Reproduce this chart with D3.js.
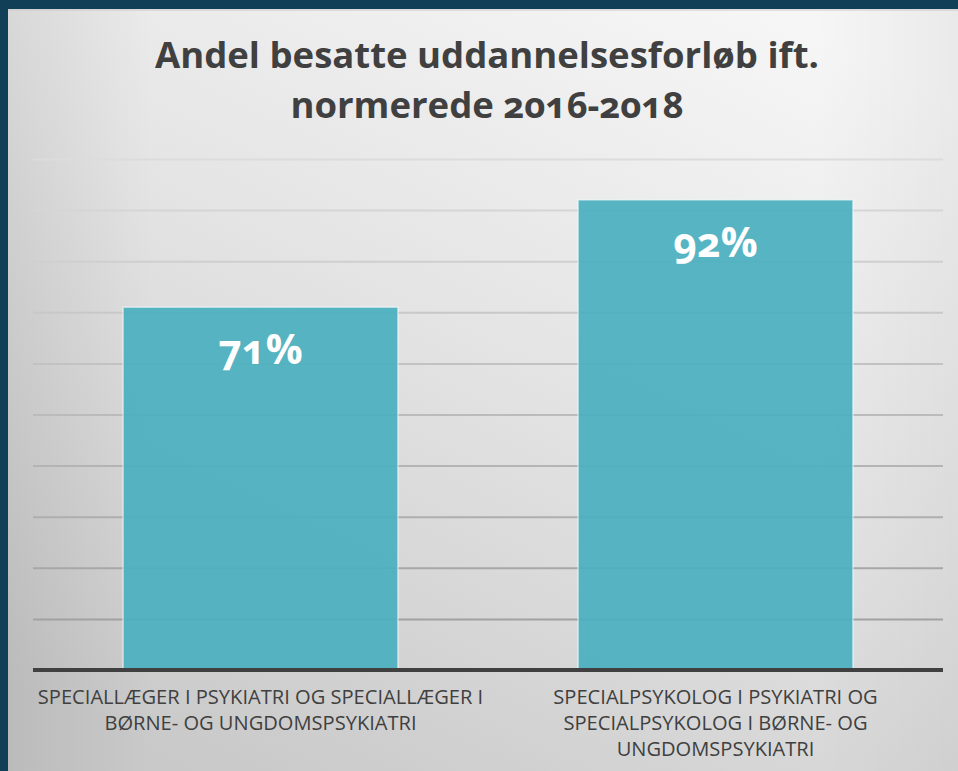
<!DOCTYPE html>
<html><head><meta charset="utf-8">
<script src="https://cdn.jsdelivr.net/npm/d3@7"></script>
<style>
html,body{margin:0;padding:0;background:#123f58;}
svg{display:block;}
</style></head>
<body>
<script>
const categories = [
  ["SPECIALLÆGER I PSYKIATRI OG SPECIALLÆGER I", "BØRNE- OG UNGDOMSPSYKIATRI"],
  ["SPECIALPSYKOLOG I PSYKIATRI OG", "SPECIALPSYKOLOG I BØRNE- OG", "UNGDOMSPSYKIATRI"]
];
const values = [0.71, 0.92];
const valueLabels = ["71%", "92%"];
const titleLines = ["Andel besatte uddannelsesforløb ift.", "normerede 2016-2018"];
const gridTicks = d3.range(0, 11).map(i => i / 10);

const W = 958, H = 771;
const svg = d3.select("body").append("svg").attr("width", W).attr("height", H);
const defs = svg.append("defs");
const lg = defs.append("linearGradient").attr("id", "bg").attr("x1", "0.8").attr("y1", "0").attr("x2", "0.2").attr("y2", "1");
lg.append("stop").attr("offset", "0").attr("stop-color", "#f6f6f6");
lg.append("stop").attr("offset", "0.45").attr("stop-color", "#e4e4e4");
lg.append("stop").attr("offset", "1").attr("stop-color", "#c9c9c9");
const lg2 = defs.append("linearGradient").attr("id", "side").attr("x1", "0").attr("y1", "0").attr("x2", "1").attr("y2", "0");
lg2.append("stop").attr("offset", "0").attr("stop-color", "#000").attr("stop-opacity", 0.07);
lg2.append("stop").attr("offset", "0.15").attr("stop-color", "#000").attr("stop-opacity", 0);
lg2.append("stop").attr("offset", "0.85").attr("stop-color", "#000").attr("stop-opacity", 0);
lg2.append("stop").attr("offset", "1").attr("stop-color", "#000").attr("stop-opacity", 0.05);

svg.append("rect").attr("x", 0).attr("y", 0).attr("width", W).attr("height", H).attr("fill", "#123f58");
svg.append("rect").attr("x", 8).attr("y", 9).attr("width", W - 8).attr("height", H - 9).attr("fill", "url(#bg)");
svg.append("rect").attr("x", 8).attr("y", 9).attr("width", W - 8).attr("height", H - 9).attr("fill", "url(#side)");
svg.append("line").attr("x1", 8).attr("x2", W).attr("y1", 10).attr("y2", 10).attr("stroke", "#c8c8c8").attr("stroke-width", 1);

const x0 = 33, x1 = 943, yTop = 159, yBase = 670;
const x = d3.scaleBand().domain(d3.range(values.length)).range([x0, x1]).paddingInner(0.396).paddingOuter(0.198);
const y = d3.scaleLinear().domain([0, 1]).range([yBase, yTop]);
const gridColor = d3.scaleLinear().domain([0, 1]).range(["#9a9a9a", "#dcdcdc"]);

const font = "'Open Sans', 'Noto Sans', sans-serif";

// title
svg.append("g").selectAll("text").data(titleLines).join("text")
  .attr("x", 487).attr("y", (d, i) => 68 + i * 50)
  .attr("text-anchor", "middle")
  .attr("font-family", font).attr("font-weight", 700).attr("font-size", 36.5)
  .style("font-variant-numeric", "oldstyle-nums")
  .attr("fill", "#404040").text(d => d);

// gridlines via axis
const gAxis = svg.append("g").attr("transform", `translate(${x0},0)`)
  .call(d3.axisLeft(y).tickValues(gridTicks.filter(t => t > 0)).tickSize(-(x1 - x0)).tickFormat(""));
gAxis.select(".domain").remove();
gAxis.selectAll(".tick line").attr("stroke", d => gridColor(d)).attr("stroke-width", 2);

// bars
svg.append("g").selectAll("rect").data(values).join("rect")
  .attr("x", (d, i) => x(i)).attr("width", x.bandwidth())
  .attr("y", d => y(d)).attr("height", d => y(0) - y(d))
  .attr("fill", "#4aafc0").attr("fill-opacity", 0.93)
  .attr("stroke", "#ffffff").attr("stroke-opacity", 0.55).attr("stroke-width", 1.5);

// value labels
svg.append("g").selectAll("text").data(values).join("text")
  .attr("x", (d, i) => x(i) + x.bandwidth() / 2)
  .attr("y", d => y(d) + 57)
  .attr("text-anchor", "middle")
  .attr("font-family", font).attr("font-weight", 700).attr("font-size", 41)
  .style("font-variant-numeric", "oldstyle-nums")
  .attr("fill", "#ffffff").text((d, i) => valueLabels[i]);

// baseline axis
const xAxis = svg.append("g").attr("transform", `translate(0,${yBase})`)
  .call(d3.axisBottom(x).tickSize(0).tickFormat(""));
xAxis.select(".domain").attr("stroke", "#404040").attr("stroke-width", 4).attr("d", `M${x0},0H${x1}`);

// category labels
const catG = svg.append("g");
categories.forEach((lines, i) => {
  catG.append("text")
    .attr("text-anchor", "middle")
    .attr("font-family", font).attr("font-size", 20.1)
    .attr("fill", "#404040")
    .selectAll("tspan").data(lines).join("tspan")
    .attr("x", x(i) + x.bandwidth() / 2)
    .attr("y", (d, j) => 704 + j * 26)
    .text(d => d);
});
</script>
</body></html>
